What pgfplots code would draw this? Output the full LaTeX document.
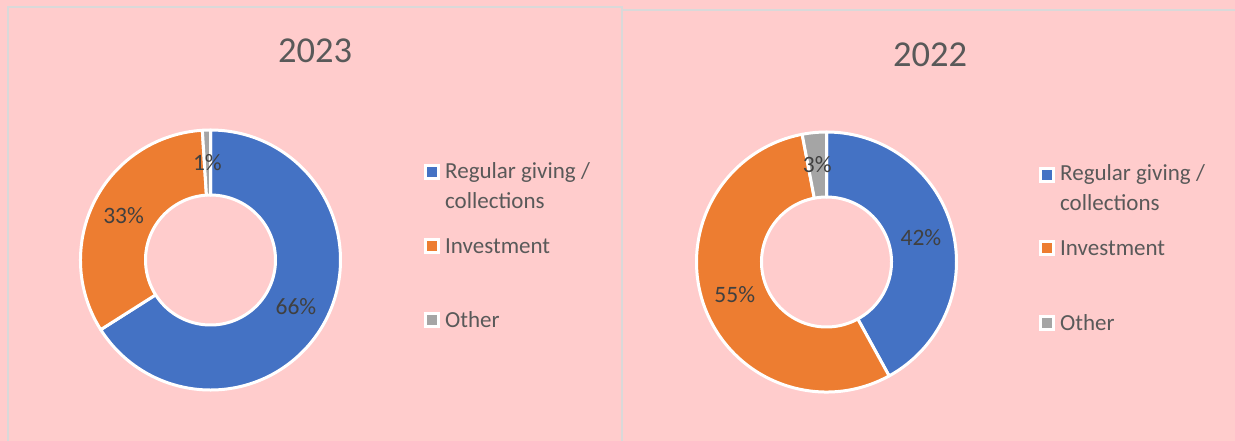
\documentclass[border=0pt]{standalone}
\usepackage{pgfplots}
\pgfplotsset{compat=1.18}
\usepackage{pgfplotstable}
\usetikzlibrary{calc}
\usepackage{fontspec}
\setmainfont{Carlito}

\definecolor{c0}{HTML}{4472C4}
\definecolor{c1}{HTML}{ED7D31}
\definecolor{c2}{HTML}{A5A5A5}
\definecolor{bgpink}{HTML}{FFCCCC}
\definecolor{frame}{HTML}{D9D9D9}
\definecolor{txt}{HTML}{595959}
\definecolor{lab}{HTML}{404040}

\newcommand\pctfont{\fontsize{23.5bp}{28bp}\selectfont}
\newcommand\legfont{\fontsize{23bp}{28bp}\selectfont}
\newcommand\ttlfont{\fontsize{36.5bp}{40bp}\selectfont}

% share of each part, in percent
\pgfplotstableread{
part val
giving 66
invest 33
other 1
}\yrA
\pgfplotstableread{
part val
giving 42
invest 55
other 3
}\yrB

% #1 table, #2 #3 centre (axis units), slices clockwise from the top
\newcommand\donut[3]{%
  \def\cumang{90}%
  \pgfplotsforeachungrouped \i in {0,1,2}{%
    \pgfplotstablegetelem{\i}{val}\of#1%
    \pgfmathsetmacro\angA{\cumang}%
    \pgfmathsetmacro\angB{\cumang-3.6*\pgfplotsretval}%
    \pgfmathsetmacro\angM{(\angA+\angB)/2}%
    \edef\cmd{%
      \noexpand\fill[c\i, draw=white, line width=3bp, line join=round]
        ($(axis cs:#2,#3)+(\angA:130bp)$)
        arc[start angle=\angA, end angle=\angB, radius=130bp]
        -- ($(axis cs:#2,#3)+(\angB:65bp)$)
        arc[start angle=\angB, end angle=\angA, radius=65bp] -- cycle;
      \noexpand\node[text=lab, font=\noexpand\pctfont]
        at ($(axis cs:#2,#3)+(\angM:97.5bp)$) {\pgfplotsretval\noexpand\%};
    }%
    \cmd
    \let\cumang\angB
  }%
}

% one legend key: #1 colour, #2 x, #3 y
\newcommand\legkey[3]{%
  \fill[white] ($(axis cs:#2,#3)+(-8bp,-8bp)$) rectangle ++(16bp,16bp);
  \fill[#1] ($(axis cs:#2,#3)+(-5bp,-5bp)$) rectangle ++(10bp,10bp);
}
% #1 x of key, #2 x of text, #3..#6 y of the lines
\newcommand\legbox[6]{%
  \legkey{c0}{#1}{#3}
  \legkey{c1}{#1}{#5}
  \legkey{c2}{#1}{#6}
  \node[anchor=west, text=txt, font=\legfont, inner sep=0pt] at (axis cs:#2,#3) {Regular giving /};
  \node[anchor=west, text=txt, font=\legfont, inner sep=0pt] at (axis cs:#2,#4) {collections};
  \node[anchor=west, text=txt, font=\legfont, inner sep=0pt] at (axis cs:#2,#5) {Investment};
  \node[anchor=west, text=txt, font=\legfont, inner sep=0pt] at (axis cs:#2,#6) {Other};
}

\begin{document}
\begin{tikzpicture}
\begin{axis}[
  hide axis,
  x=1bp, y=1bp,
  xmin=0, xmax=1235, ymin=0, ymax=441,
  y dir=reverse,
  clip=false,
]
\addplot[draw=none] coordinates {(0,0)};
\fill[bgpink] (axis cs:0,0) rectangle (axis cs:1235,441);
\draw[frame, line width=1.8bp] (axis cs:8,441) -- (axis cs:8,7) -- (axis cs:622,7) -- (axis cs:622,441);
\draw[frame, line width=1.8bp] (axis cs:622,10) -- (axis cs:1235,10);

\node[text=txt, font=\ttlfont] at (axis cs:315,51) {2023};
\node[text=txt, font=\ttlfont] at (axis cs:930,55) {2022};

\donut{\yrA}{210.5}{260}
\donut{\yrB}{826.5}{262}

\legbox{431.5}{445}{172}{201}{246}{320}
\legbox{1046.5}{1060}{174.5}{203}{248}{322.5}
\end{axis}
\pgfresetboundingbox
\useasboundingbox (0,0) rectangle (1235bp,441bp);
\end{tikzpicture}
\end{document}
